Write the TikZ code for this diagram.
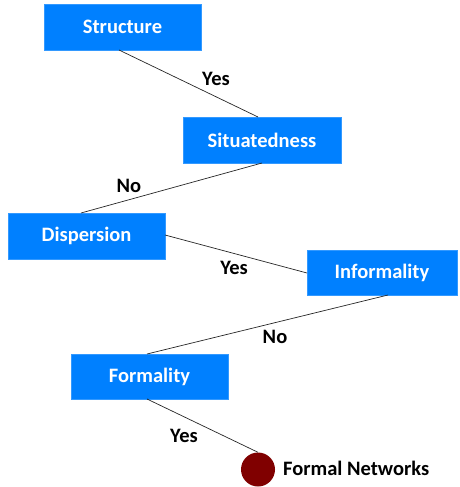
\documentclass[tikz,border=0pt]{standalone}
\usepackage{fontspec}
\setmainfont{Carlito}
\definecolor{boxblue}{RGB}{0,128,255}
\definecolor{dotred}{RGB}{128,0,0}
\begin{document}
\begin{tikzpicture}[x=1pt,y=-1pt,
  box/.style={fill=boxblue,draw=boxblue!80!white,line width=0.4pt,inner sep=0pt,
    font=\fontsize{20.5}{22}\selectfont\bfseries,text=white},
  lab/.style={font=\fontsize{20.5}{22}\selectfont\bfseries,text=black},
  conn/.style={draw=black!85,line width=0.7pt}]
\useasboundingbox (0,0) rectangle (459,487);
\node[box,minimum width=157pt,minimum height=46pt] (structure) at (122.5,27) {Structure};
\node[box,minimum width=158pt,minimum height=46pt] (situ) at (262,140) {Situatedness};
\node[box,minimum width=157pt,minimum height=46pt] (disp) at (86.5,236) {Dispersion};
\node[box,minimum width=150pt,minimum height=45pt] (inf) at (382,272.5) {Informality};
\node[box,minimum width=157pt,minimum height=45pt] (form) at (149.5,376.5) {Formality};
\node[circle,fill=dotred,minimum size=34pt,inner sep=0pt] (dot) at (258,469.5) {};
\node[lab,anchor=west,inner sep=0pt] (fn) at (283,468) {Formal Networks};
\coordinate (a1) at (119,50);
\coordinate (a2) at (258,117);
\coordinate (b1) at (262,163);
\coordinate (b2) at (81,213);
\coordinate (c1) at (165,235);
\coordinate (c2) at (307,273);
\coordinate (d1) at (388,295);
\coordinate (d2) at (147,354);
\coordinate (e1) at (147,399);
\coordinate (e2) at (258,453);
\draw[conn] (a1) -- (a2);
\draw[conn] (b1) -- (b2);
\draw[conn] (c1) -- (c2);
\draw[conn] (d1) -- (d2);
\draw[conn] (e1) -- (dot.north);
\node[lab] (y1) at (216,79) {Yes};
\node[lab] (n1) at (129,186) {No};
\node[lab] (y2) at (234,268) {Yes};
\node[lab] (n2) at (275,337) {No};
\node[lab] (y3) at (184,436) {Yes};
\end{tikzpicture}
\end{document}
